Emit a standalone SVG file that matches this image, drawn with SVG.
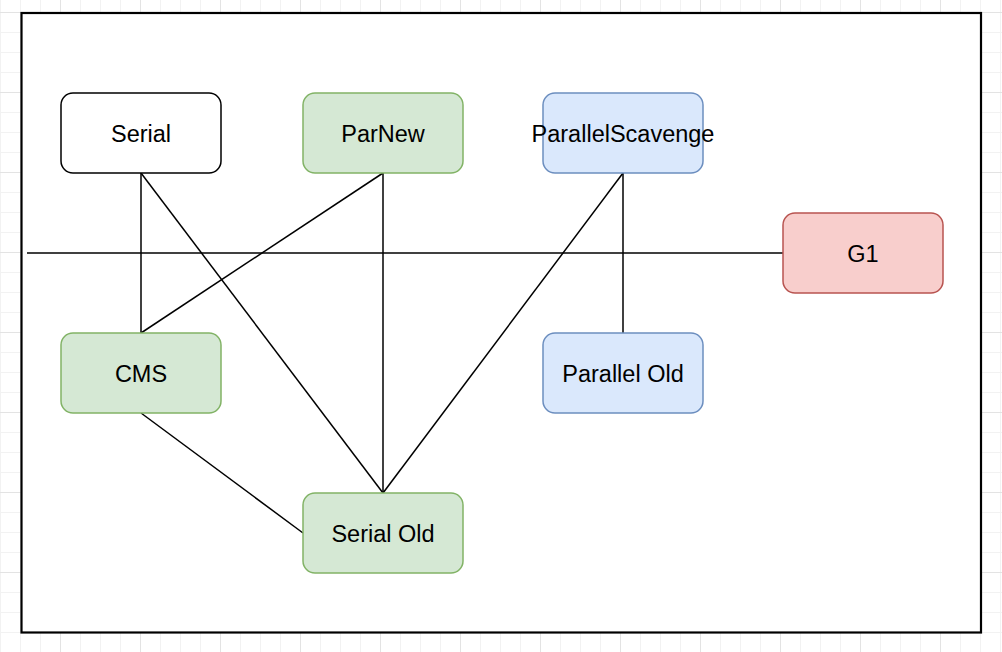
<svg xmlns="http://www.w3.org/2000/svg" width="1002" height="652" viewBox="0 0 1002 652">
  <defs>
    <pattern id="minor" patternUnits="userSpaceOnUse" x="0" y="12" width="20" height="20">
      <rect x="0" y="0" width="20" height="1" fill="#f2f2f2"/>
      <rect x="0" y="0" width="1" height="20" fill="#f2f2f2"/>
    </pattern>
    <pattern id="major" patternUnits="userSpaceOnUse" x="60" y="12" width="80" height="80">
      <rect x="0" y="0" width="80" height="1" fill="#e3e3e3"/>
      <rect x="0" y="0" width="1" height="80" fill="#e3e3e3"/>
    </pattern>
  </defs>
  <style>
    .node rect { stroke-width: 1.5; }
    .node text { font-family: "Liberation Sans", Arial, Helvetica, sans-serif; font-size: 23.5px; text-anchor: middle; fill: #000; }
    .plain rect { fill: #ffffff; stroke: #000000; }
    .green rect { fill: #d5e8d4; stroke: #82b366; }
    .blue rect { fill: #dae8fc; stroke: #6c8ebf; }
    .red rect { fill: #f8cecc; stroke: #b85450; }
    #connectors line { stroke: #000; stroke-width: 1.5; fill: none; }
  </style>
  <rect x="0" y="0" width="1002" height="652" fill="#ffffff"/>
  <rect x="0" y="0" width="1002" height="652" fill="url(#minor)"/>
  <rect x="0" y="0" width="1002" height="652" fill="url(#major)"/>
  <rect id="frame" x="21.5" y="13" width="959.5" height="619.5" fill="#ffffff" stroke="#000000" stroke-width="2.2"/>
  <g id="connectors">
    <line x1="27" y1="253" x2="783" y2="253"/>
    <line x1="141" y1="173" x2="141" y2="333"/>
    <line x1="141" y1="173" x2="383" y2="493"/>
    <line x1="383" y1="173" x2="141" y2="333"/>
    <line x1="383" y1="173" x2="383" y2="493"/>
    <line x1="623" y1="173" x2="383" y2="493"/>
    <line x1="623" y1="173" x2="623" y2="333"/>
    <line x1="141" y1="413" x2="303" y2="533"/>
  </g>
  <g id="serial" class="node plain">
    <rect x="61" y="93" width="160" height="80" rx="12"/>
    <text x="141" y="141.5">Serial</text>
  </g>
  <g id="parnew" class="node green">
    <rect x="303" y="93" width="160" height="80" rx="12"/>
    <text x="383" y="141.5">ParNew</text>
  </g>
  <g id="parallelscavenge" class="node blue">
    <rect x="543" y="93" width="160" height="80" rx="12"/>
    <text x="623" y="141.5">ParallelScavenge</text>
  </g>
  <g id="g1" class="node red">
    <rect x="783" y="213" width="160" height="80" rx="12"/>
    <text x="863" y="261.5">G1</text>
  </g>
  <g id="cms" class="node green">
    <rect x="61" y="333" width="160" height="80" rx="12"/>
    <text x="141" y="381.5">CMS</text>
  </g>
  <g id="parallelold" class="node blue">
    <rect x="543" y="333" width="160" height="80" rx="12"/>
    <text x="623" y="381.5">Parallel Old</text>
  </g>
  <g id="serialold" class="node green">
    <rect x="303" y="493" width="160" height="80" rx="12"/>
    <text x="383" y="541.5">Serial Old</text>
  </g>
</svg>
